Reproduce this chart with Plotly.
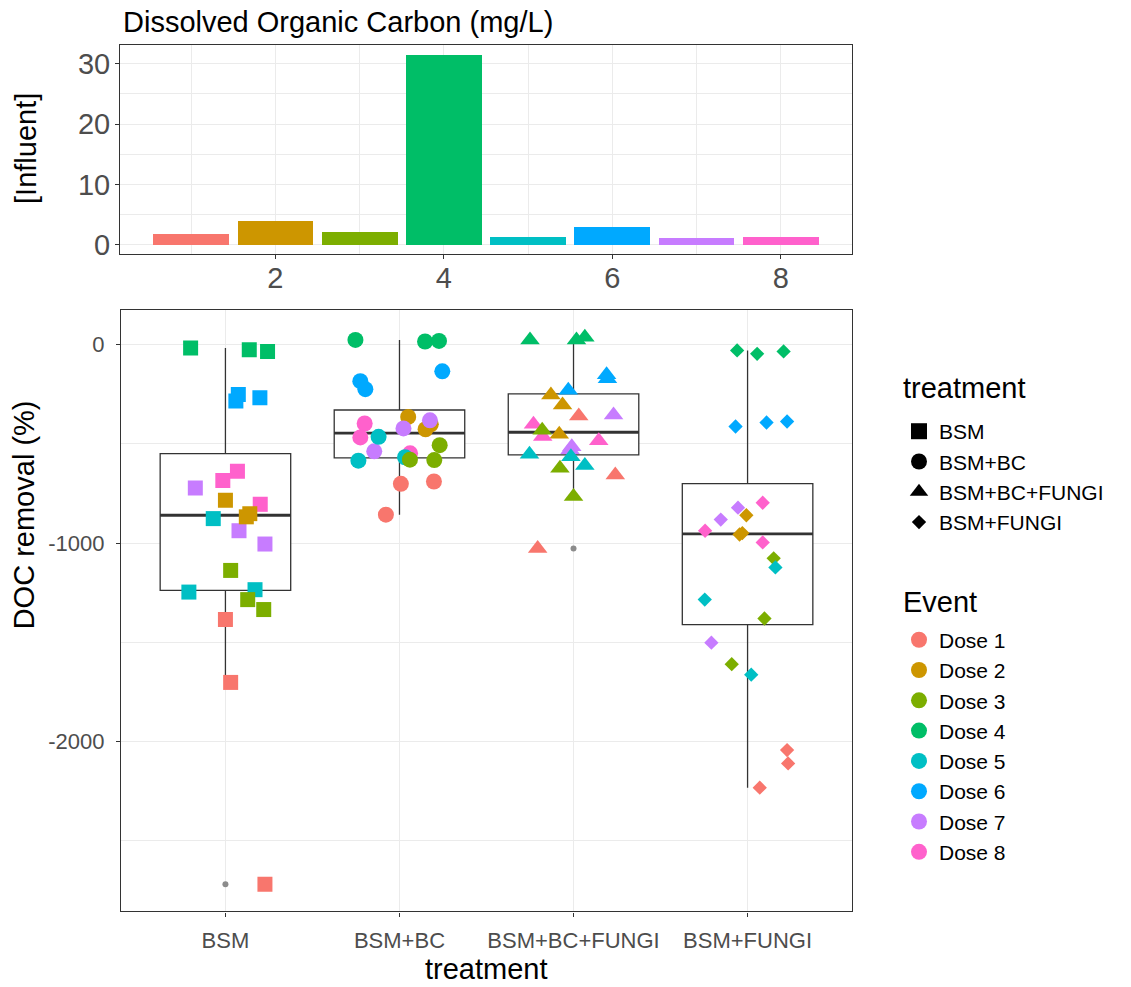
import numpy as np
import plotly.graph_objects as go

W, H = 1131, 987
FONT = "Liberation Sans, Arial, Helvetica, sans-serif"

# ---------------- data ----------------
doses = ["Dose 1", "Dose 2", "Dose 3", "Dose 4", "Dose 5", "Dose 6", "Dose 7", "Dose 8"]
dose_colors = ["#F8766D", "#CD9600", "#7CAE00", "#00BE67", "#00BFC4", "#00A9FF", "#C77CFF", "#FF61CC"]

# top panel: influent DOC (mg/L) per event
influent_event = [1, 2, 3, 4, 5, 6, 7, 8]
influent_doc = [1.9, 4.0, 2.1, 31.6, 1.4, 3.0, 1.2, 1.4]
top_y_ticks = [0, 10, 20, 30]
top_x_ticks = [2, 4, 6, 8]

treatments = ["BSM", "BSM+BC", "BSM+BC+FUNGI", "BSM+FUNGI"]
treatment_symbols = ["square", "circle", "triangle-up", "diamond"]
bottom_y_ticks = [0, -1000, -2000]
bottom_y_ticktext = ["0", "-1000", "-2000"]

# DOC removal (%) per treatment; dose number of each point and horizontal jitter
bsm_dose = [4, 4, 4, 6, 6, 6, 8, 8, 8, 7, 7, 7, 2, 2, 2, 5, 5, 5, 3, 3, 3, 1, 1, 1]
bsm_removal = [-18, -27, -35, -252, -285, -268, -638, -685, -805, -723, -938, -1005,
               -785, -852, -868, -877, -1247, -1235, -1138, -1285, -1335, -1385, -1702, -2718]
bsm_jitter = [-0.20, 0.137, 0.242, 0.074, 0.06, 0.198, 0.069, -0.015, 0.2, -0.173, 0.078, 0.227,
              0.0, 0.14, 0.12, -0.07, -0.21, 0.17, 0.03, 0.128, 0.22, 0.0, 0.03, 0.227]

bc_dose = [4, 4, 4, 6, 6, 6, 2, 2, 2, 7, 7, 7, 8, 8, 8, 5, 5, 5, 3, 3, 3, 1, 1, 1]
bc_removal = [23, 15, 18, -185, -225, -135, -365, -427, -402, -382, -423, -538,
              -398, -468, -548, -465, -585, -568, -507, -582, -580, -702, -690, -857]
bc_jitter = [-0.253, 0.147, 0.227, -0.225, -0.196, 0.246, 0.05, 0.15, 0.18, 0.175, 0.023, -0.145,
             -0.2, -0.225, 0.061, -0.12, -0.236, 0.032, 0.231, 0.2, 0.06, 0.008, 0.198, -0.078]

bcf_dose = [4, 4, 4, 6, 6, 6, 2, 2, 2, 1, 1, 1, 7, 7, 7, 8, 8, 8, 3, 3, 3, 5, 5, 5]
bcf_removal = [23, 23, 37, -152, -173, -230, -255, -305, -452, -360, -657, -1027,
               -355, -530, -515, -402, -463, -485, -432, -623, -765, -553, -565, -610]
bcf_jitter = [-0.25, 0.017, 0.065, 0.19, 0.195, -0.03, -0.13, -0.063, -0.082, 0.03, 0.24, -0.206,
              0.23, -0.02, -0.01, -0.23, -0.177, 0.145, -0.18, -0.078, 0.0, -0.253, -0.015, 0.065]

f_dose = [4, 4, 4, 6, 6, 6, 8, 8, 8, 7, 7, 7, 2, 2, 2, 3, 3, 3, 5, 5, 5, 1, 1, 1]
f_removal = [-30, -47, -35, -413, -393, -388, -797, -938, -997, -822, -882, -1502,
             -860, -957, -950, -1077, -1380, -1610, -1123, -1285, -1663, -2043, -2110, -2232]
f_jitter = [-0.06, 0.055, 0.207, -0.069, 0.109, 0.227, 0.087, -0.244, 0.087, -0.055, -0.154, -0.208,
            -0.007, -0.046, -0.03, 0.15, 0.097, -0.091, 0.16, -0.246, 0.021, 0.227, 0.233, 0.07]

groups = [
    (bsm_dose, bsm_removal, bsm_jitter),
    (bc_dose, bc_removal, bc_jitter),
    (bcf_dose, bcf_removal, bcf_jitter),
    (f_dose, f_removal, f_jitter),
]

# ---------------- layout geometry ----------------
def px_x(p):
    return p / W


def px_y(p):
    return 1 - p / H


top_dom_x = [px_x(120), px_x(852)]
top_dom_y = [px_y(256), px_y(45)]
bot_dom_x = [px_x(121), px_x(852)]
bot_dom_y = [px_y(918), px_y(312)]

INK = "#333333"
TICKC = "#4D4D4D"
GRID = "#EBEBEB"

fig = go.Figure()

# ---------------- top bar panel ----------------
fig.add_trace(go.Bar(
    x=influent_event, y=influent_doc, width=0.9,
    marker=dict(color=dose_colors, line=dict(width=0)),
    xaxis="x", yaxis="y", showlegend=False, hoverinfo="x+y",
))

# ---------------- boxplots (ggplot-style stats, type 7 quantiles) ----------------
BOX_W = 0.75
outl_x, outl_y = [], []
for i, (d, v, j) in enumerate(groups):
    pos = i + 1
    arr = np.array(v, dtype=float)
    q1, med, q3 = np.percentile(arr, [25, 50, 75])
    iqr = q3 - q1
    lo_f, hi_f = q1 - 1.5 * iqr, q3 + 1.5 * iqr
    inside = arr[(arr >= lo_f) & (arr <= hi_f)]
    lw, uw = inside.min(), inside.max()
    for val in arr[(arr < lo_f) | (arr > hi_f)]:
        outl_x.append(pos)
        outl_y.append(val)
    fig.add_trace(go.Box(
        x=[pos], q1=[q1], median=[med], q3=[q3], lowerfence=[lw], upperfence=[uw],
        width=BOX_W, whiskerwidth=0, fillcolor="white",
        line=dict(color=INK, width=1.3), boxpoints=False,
        xaxis="x2", yaxis="y2", showlegend=False, hoverinfo="skip",
    ))
    fig.add_trace(go.Scatter(
        x=[pos - BOX_W / 2, pos + BOX_W / 2], y=[med, med], mode="lines",
        line=dict(color=INK, width=2.8), xaxis="x2", yaxis="y2",
        showlegend=False, hoverinfo="skip",
    ))

fig.add_trace(go.Scatter(
    x=outl_x, y=outl_y, mode="markers",
    marker=dict(color="#8C8C8C", size=6, symbol="circle"),
    xaxis="x2", yaxis="y2", showlegend=False, hoverinfo="skip",
))

# ---------------- jittered points ----------------
sizes = {"square": 15, "circle": 16, "triangle-up": 17, "diamond": 11}
for i, (d, v, j) in enumerate(groups):
    pos = i + 1
    sym = treatment_symbols[i]
    fig.add_trace(go.Scatter(
        x=[pos + jj for jj in j], y=v, mode="markers",
        marker=dict(symbol=sym, size=sizes[sym],
                    color=[dose_colors[k - 1] for k in d], line=dict(width=0)),
        text=[doses[k - 1] for k in d],
        xaxis="x2", yaxis="y2", showlegend=False, name=treatments[i],
    ))

# ---------------- legend entries ----------------
for t, sym in zip(treatments, treatment_symbols):
    fig.add_trace(go.Scatter(
        x=[None], y=[None], mode="markers", name=t, legend="legend",
        marker=dict(symbol=sym, color="black", size=16 if sym != "diamond" else 11),
        xaxis="x2", yaxis="y2",
    ))
for dname, c in zip(doses, dose_colors):
    fig.add_trace(go.Scatter(
        x=[None], y=[None], mode="markers", name=dname, legend="legend2",
        marker=dict(symbol="circle", color=c, size=17),
        xaxis="x2", yaxis="y2",
    ))

# ---------------- axes ranges (ggplot-like 5% expansion) ----------------
top_lo, top_hi = 0.0, max(influent_doc)
pad = 0.05 * (top_hi - top_lo)
top_yrange = [top_lo - pad, top_hi + pad]
bx_lo, bx_hi = min(influent_event) - 0.45, max(influent_event) + 0.45
padx = 0.05 * (bx_hi - bx_lo)
top_xrange = [bx_lo - padx, bx_hi + padx]

allv = bsm_removal + bc_removal + bcf_removal + f_removal
vlo, vhi = min(allv), max(allv)
padv = 0.05 * (vhi - vlo)
bot_yrange = [vlo - padv, vhi + padv]

axis_common = dict(
    showline=True, mirror=True, linecolor=INK, linewidth=1.1,
    ticks="outside", ticklen=4, tickwidth=1.1, tickcolor=INK,
    showgrid=True, gridcolor=GRID, gridwidth=1.1, zeroline=False,
)

TITLE_SIZE = 29
LEG_SIZE = 21

fig.update_layout(
    width=W, height=H,
    margin=dict(l=0, r=0, t=0, b=0),
    paper_bgcolor="white", plot_bgcolor="white",
    font=dict(family=FONT, color="black"),
    bargap=0, boxgap=0,
    xaxis=dict(domain=top_dom_x, anchor="y", range=top_xrange,
               tickmode="array", tickvals=top_x_ticks,
               tickfont=dict(size=29, color=TICKC, family=FONT), ticklabelstandoff=-6,
               minor=dict(tickvals=[1, 3, 5, 7], showgrid=True, gridcolor=GRID, gridwidth=0.6, ticks=""),
               **axis_common),
    yaxis=dict(domain=top_dom_y, anchor="x", range=top_yrange,
               tickmode="array", tickvals=top_y_ticks,
               tickfont=dict(size=29, color=TICKC, family=FONT), ticklabelstandoff=-1,
               minor=dict(tickvals=[5, 15, 25], showgrid=True, gridcolor=GRID, gridwidth=0.6, ticks=""),
               **axis_common),
    xaxis2=dict(domain=bot_dom_x, anchor="y2", range=[0.4, 4.6],
                tickmode="array", tickvals=[1, 2, 3, 4], ticktext=treatments,
                tickfont=dict(size=22, color=TICKC, family=FONT), ticklabelstandoff=5,
                **axis_common),
    yaxis2=dict(domain=bot_dom_y, anchor="x2", range=bot_yrange,
                tickmode="array", tickvals=bottom_y_ticks, ticktext=bottom_y_ticktext,
                tickfont=dict(size=22, color=TICKC, family=FONT), ticklabelstandoff=7,
                minor=dict(tickvals=[-500, -1500, -2500], showgrid=True, gridcolor=GRID, gridwidth=0.6, ticks=""),
                **axis_common),
    legend=dict(
        x=px_x(899), y=px_y(414), xanchor="left", yanchor="top",
        font=dict(size=LEG_SIZE, family=FONT, color="black"),
        bgcolor="rgba(0,0,0,0)", itemsizing="trace",
    ),
    legend2=dict(
        x=px_x(899), y=px_y(624), xanchor="left", yanchor="top",
        font=dict(size=LEG_SIZE, family=FONT, color="black"),
        bgcolor="rgba(0,0,0,0)", itemsizing="trace",
    ),
    annotations=[
        dict(text="Dissolved Organic Carbon (mg/L)", x=px_x(121), y=px_y(22),
             xref="paper", yref="paper", xanchor="left", yanchor="middle",
             showarrow=False, font=dict(size=TITLE_SIZE, family=FONT, color="black")),
        dict(text="[Influent]", x=px_x(26), y=px_y(150), textangle=-90,
             xref="paper", yref="paper", xanchor="center", yanchor="middle",
             showarrow=False, font=dict(size=TITLE_SIZE, family=FONT, color="black")),
        dict(text="DOC removal (%)", x=px_x(24), y=px_y(519), textangle=-90,
             xref="paper", yref="paper", xanchor="center", yanchor="middle",
             showarrow=False, font=dict(size=TITLE_SIZE, family=FONT, color="black")),
        dict(text="treatment", x=px_x(486), y=px_y(976),
             xref="paper", yref="paper", xanchor="center", yanchor="middle",
             showarrow=False, font=dict(size=TITLE_SIZE, family=FONT, color="black")),
        dict(text="treatment", x=px_x(901), y=px_y(391),
             xref="paper", yref="paper", xanchor="left", yanchor="middle",
             showarrow=False, font=dict(size=TITLE_SIZE, family=FONT, color="black")),
        dict(text="Event", x=px_x(901), y=px_y(606),
             xref="paper", yref="paper", xanchor="left", yanchor="middle",
             showarrow=False, font=dict(size=TITLE_SIZE, family=FONT, color="black")),
    ],
)

fig.write_html("out.html")
